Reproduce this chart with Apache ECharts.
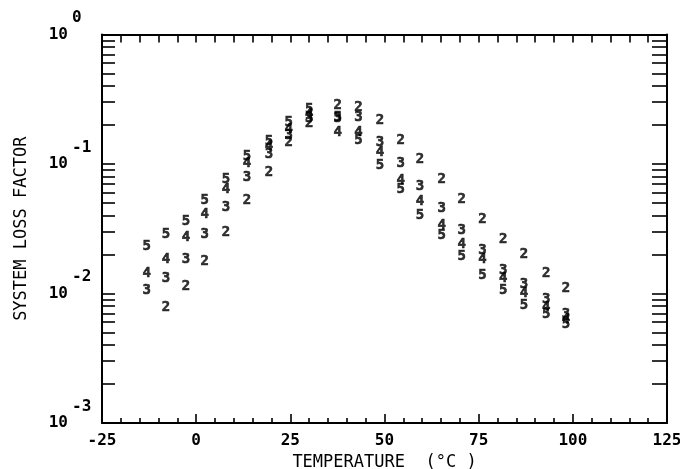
<!DOCTYPE html>
<html><head><meta charset="utf-8">
<script src="https://cdn.jsdelivr.net/npm/echarts@6/dist/echarts.min.js"></script>
<style>html,body{margin:0;padding:0;background:#fff}#c{width:680px;height:469px}</style>
</head><body><div id="c"></div>
<script>
// Temperatures (°C) of each measurement column
const temps = [-13.1,-8.0,-2.7,2.3,7.9,13.5,19.3,24.6,30.0,37.6,43.1,48.8,54.3,59.4,65.2,70.5,76.0,81.5,87.0,92.9,98.2];
// System loss factor per curve label
const series5 = [0.0233,0.0284,0.0360,0.0524,0.0756,0.114,0.149,0.209,0.263,0.228,0.151,0.097,0.0633,0.0398,0.0279,0.0195,0.0137,0.0105,0.00817,0.00695,0.00582];
const series4 = [0.0142,0.0185,0.0269,0.0405,0.0633,0.102,0.136,0.184,0.241,0.175,0.175,0.122,0.0743,0.0511,0.0333,0.0238,0.0185,0.0132,0.0101,0.00788,0.00636];
const series3 = [0.0105,0.0132,0.0185,0.0284,0.0459,0.0783,0.118,0.166,0.224,0.224,0.228,0.146,0.102,0.0668,0.0451,0.0305,0.0217,0.0152,0.0117,0.00908,0.00695];
const series2 = [null,0.00778,0.0113,0.0177,0.0294,0.0520,0.0857,0.146,0.205,0.282,0.272,0.216,0.151,0.108,0.0756,0.0530,0.0371,0.0260,0.0199,0.0144,0.0109];
const seriesLabels = ['2','3','4','5'];
const seriesValues = [series2, series3, series4, series5];
const xTitle = 'TEMPERATURE  (°C )';
const yTitle = 'SYSTEM LOSS FACTOR';

const FONT = 'DejaVu Sans Mono';
const chart = echarts.init(document.getElementById('c'), null, {renderer:'canvas'});
const line = {show:true, onZero:false, lineStyle:{color:'#000', width:2}};
const tickStyle = {color:'#000', width:1.6};

const series = seriesLabels.map((lab, k) => ({
  type:'scatter',
  name: lab,
  xAxisIndex:0, yAxisIndex:0,
  symbol:'circle', symbolSize:1,
  itemStyle:{color:'rgba(0,0,0,0)'},
  label:{show:true, position:'inside', formatter: lab, color:'#000',
         fontFamily:FONT, fontWeight:'bold', fontSize:14,
         textBorderColor:'#000', textBorderWidth:0.6},
  emphasis:{disabled:true},
  data: temps.map((t,i)=>[t, seriesValues[k][i]]).filter(d=>d[1]!=null)
}));

chart.setOption({
  animation:false,
  backgroundColor:'#fff',
  grid:{left:102, right:13, top:34.5, bottom:46, containLabel:false, outerBoundsMode:'none'},
  xAxis:[
    {type:'value', min:-25, max:125, interval:25, position:'bottom',
     axisLine:line,
     axisTick:{show:true, inside:true, length:9, lineStyle:tickStyle},
     minorTick:{show:true, splitNumber:5, length:5, lineStyle:tickStyle},
     splitLine:{show:false},
     axisLabel:{color:'#000', fontFamily:FONT, fontWeight:'bold', fontSize:16, margin:10},
     name:xTitle, nameLocation:'middle', nameGap:28,
     nameTextStyle:{color:'#000', fontFamily:FONT, fontSize:17}},
    {type:'value', min:-25, max:125, interval:25, position:'top',
     axisLine:line,
     axisTick:{show:true, inside:true, length:8, lineStyle:tickStyle},
     minorTick:{show:true, splitNumber:5, length:8, lineStyle:tickStyle},
     splitLine:{show:false}, axisLabel:{show:false}}
  ],
  yAxis:[
    {type:'log', logBase:10, min:0.001, max:1, position:'left',
     axisLine:line,
     axisTick:{show:true, inside:true, length:13, lineStyle:tickStyle},
     minorTick:{show:true, splitNumber:9, length:13, lineStyle:tickStyle},
     splitLine:{show:false},
     axisLabel:{color:'#000', fontFamily:FONT, fontWeight:'bold', fontSize:16, margin:34, formatter:()=> '10'},
     name:yTitle, nameLocation:'middle', nameGap:72, nameRotate:90,
     nameTextStyle:{color:'#000', fontFamily:FONT, fontSize:17}},
    {type:'log', logBase:10, min:0.001, max:1, position:'left',
     axisLine:{show:false, onZero:false}, axisTick:{show:false}, splitLine:{show:false},
     axisLabel:{color:'#000', fontFamily:FONT, fontWeight:'bold', fontSize:16, margin:30, align:'left',
       lineHeight:33,
       formatter:(v)=> String(Math.round(Math.log10(v))) + '\n '}},
    {type:'log', logBase:10, min:0.001, max:1, position:'right',
     axisLine:line,
     axisTick:{show:true, inside:true, length:15, lineStyle:tickStyle},
     minorTick:{show:true, splitNumber:9, length:15, lineStyle:tickStyle},
     splitLine:{show:false}, axisLabel:{show:false}}
  ],
  series: series
});
</script></body></html>
